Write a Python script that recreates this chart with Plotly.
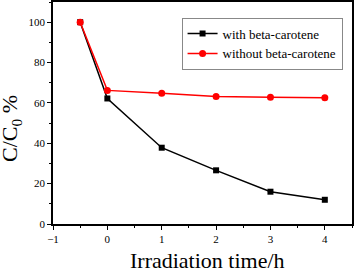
import plotly.graph_objects as go

x_vals = [-0.5, 0, 1, 2, 3, 4]
with_beta = [100, 62.2, 37.8, 26.6, 16.0, 12.0]
without_beta = [100, 66.2, 64.8, 63.2, 62.8, 62.6]
x_ticks = [-1, 0, 1, 2, 3, 4]
y_ticks = [0, 20, 40, 60, 80, 100]

font = "Liberation Serif, Times New Roman, serif"
fig = go.Figure()
fig.add_trace(go.Scatter(x=x_vals, y=with_beta, mode="lines+markers", name="with beta-carotene",
                         line=dict(color="black", width=1.5), marker=dict(symbol="square", size=6, color="black")))
fig.add_trace(go.Scatter(x=x_vals, y=without_beta, mode="lines+markers", name="without beta-carotene",
                         line=dict(color="red", width=1.5), marker=dict(symbol="circle", size=7, color="red")))

axis_common = dict(showgrid=False, zeroline=False, showline=True, linecolor="black", linewidth=1.5,
                   mirror=True, ticks="outside", ticklen=4, tickwidth=1, tickcolor="black",
                   automargin=False,
                   tickfont=dict(family=font, size=11, color="black"))
fig.update_xaxes(range=[-1, 4.5], tickvals=x_ticks,
                 minor=dict(dtick=0.5, ticks="outside", ticklen=2, tickcolor="black"),
                 **axis_common)
fig.update_yaxes(range=[0, 110], tickvals=y_ticks,
                 minor=dict(dtick=10, ticks="outside", ticklen=2, tickcolor="black"),
                 **axis_common)
fig.add_annotation(text="Irradiation time/h", xref="paper", yref="paper", x=(207 - 53) / 299, y=-36 / 222,
                   xanchor="center", yanchor="middle", showarrow=False,
                   font=dict(family=font, size=22, color="black"))
fig.add_annotation(text="C/C<sub>0</sub> %", xref="paper", yref="paper", x=-42 / 299, y=(224 - 129) / 222,
                   xanchor="center", yanchor="middle", textangle=-90, showarrow=False,
                   font=dict(family=font, size=22, color="black"))
fig.update_layout(width=354, height=271, margin=dict(l=53, r=2, t=2, b=47),
                  plot_bgcolor="white", paper_bgcolor="white",
                  showlegend=True,
                  legend=dict(x=0.43, y=0.93, xanchor="left", yanchor="top",
                              bgcolor="white", bordercolor="#888", borderwidth=1,
                              font=dict(family=font, size=13, color="black"),
                              itemwidth=30, tracegroupgap=0))
fig.write_html("out.html", config={"displayModeBar": False},
               post_script="document.body.style.margin='0';document.body.style.overflow='hidden';")
